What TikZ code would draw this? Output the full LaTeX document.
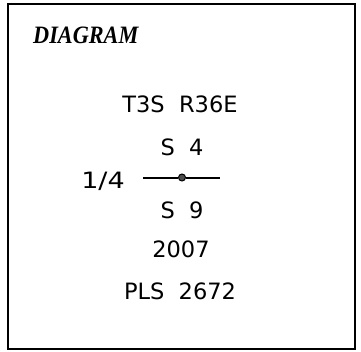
\documentclass[tikz,border=0pt]{standalone}
\usepackage{fontspec}
\setmainfont{DejaVu Sans}
\newfontfamily\titlefont{Liberation Serif}
\tikzset{
  lbl/.style={anchor=base,inner sep=0pt,font=\fontsize{22.5}{26}\selectfont},
  pin/.style={circle,draw,fill=black!70,minimum size=7pt,inner sep=0pt,line width=1pt}
}
\begin{document}
\begin{tikzpicture}[x=1pt,y=-1pt]
\useasboundingbox (0,0) rectangle (361,351);
\draw[line width=2.2pt] (8,4) rectangle (355,349);
\node[anchor=base west,inner sep=0pt,font=\titlefont\bfseries\itshape\fontsize{25}{29}\selectfont] (title) at (33,43) {\scalebox{0.89}[1]{DIAGRAM}};
\node[lbl] (twp) at (180,112) {T3S~~R36E};
\node[lbl] (top) at (182,155) {S~~4};
\node[lbl] (frac) at (103,188) {\scalebox{1.2}[1]{1/4}};
\node[pin] (dot) at (182,177.5) {};
\coordinate (west) at (143,177.5);
\coordinate (east) at (220,177.5);
\draw[line width=2pt] (west) -- (dot) -- (east);
\node[lbl] (bot) at (182,218) {S~~9};
\node[lbl] (year) at (181,257) {2007};
\node[lbl] (pls) at (180,299) {PLS~~2672};
\end{tikzpicture}
\end{document}
